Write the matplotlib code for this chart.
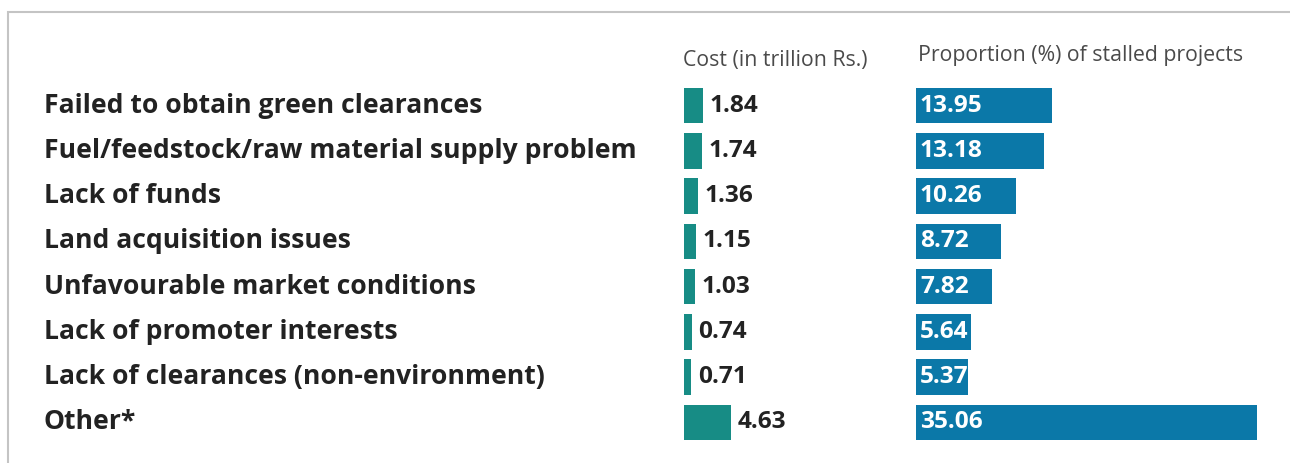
import matplotlib.pyplot as plt
from matplotlib.patches import Rectangle

reasons = [
    "Failed to obtain green clearances",
    "Fuel/feedstock/raw material supply problem",
    "Lack of funds",
    "Land acquisition issues",
    "Unfavourable market conditions",
    "Lack of promoter interests",
    "Lack of clearances (non-environment)",
    "Other*",
]
cost = [1.84, 1.74, 1.36, 1.15, 1.03, 0.74, 0.71, 4.63]
share = [13.95, 13.18, 10.26, 8.72, 7.82, 5.64, 5.37, 35.06]

W, H = 1290, 463
teal, blue, dark = "#178c85", "#0b78a8", "#222222"
plt.rcParams["font.family"] = ["Open Sans", "DejaVu Sans"]

fig = plt.figure(figsize=(W / 100, H / 100), dpi=100)
fig.patches.append(Rectangle((8 / W, -0.1), 1.2, 1.1 - 12 / H, transform=fig.transFigure,
                             fill=False, edgecolor="#c4c4c4", linewidth=1.5))

top, bot = 83, 445
ypos = list(range(len(reasons)))


def row_axes(x0, x1):
    ax = fig.add_axes([x0 / W, 1 - bot / H, (x1 - x0) / W, (bot - top) / H])
    ax.set_ylim(len(reasons) - 0.5, -0.5)
    ax.axis("off")
    return ax


# labels
axl = row_axes(40, 680)
axl.set_xlim(0, 1)
for y, r in zip(ypos, reasons):
    axl.text(0.006, y, r, va="center", ha="left", fontsize=19.1, fontweight="bold", color=dark)

# cost bars
axc = row_axes(684, 884)
axc.set_xlim(0, 200 / 10.2)
axc.barh(ypos, cost, height=0.79, color=teal)
for y, v in zip(ypos, cost):
    axc.text(v + 0.65, y, f"{v:.2f}", va="center", ha="left", fontsize=17.6, fontweight="bold", color=dark)
axc.text(-0.1, -0.5 - 0.5, "Cost (in trillion Rs.)", ha="left", va="center", fontsize=15.3, color="#4a4a4a")

# proportion bars
axp = row_axes(916, 1280)
axp.set_xlim(0, 364 / 9.72)
axp.barh(ypos, share, height=0.79, color=blue)
for y, v in zip(ypos, share):
    axp.text(0.4, y, f"{v:.2f}", va="center", ha="left", fontsize=17.6, fontweight="bold", color="white")
axp.text(0.25, -0.5 - 0.6, "Proportion (%) of stalled projects", ha="left", va="center",
         fontsize=15.3, color="#4a4a4a")

fig.savefig("out.png", dpi=100)
